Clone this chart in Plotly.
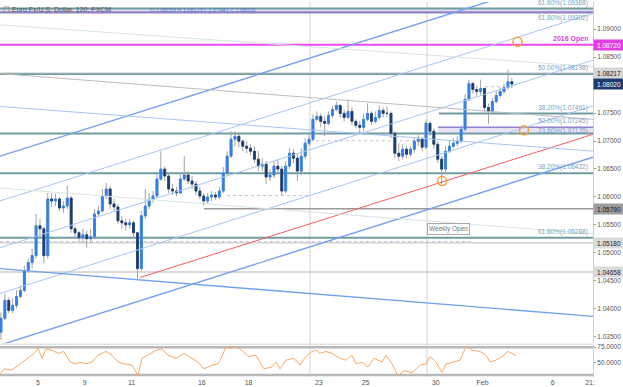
import plotly.graph_objects as go

# ---------------- data ----------------
# x axis: trading days counted from 2017-01-03 00:00 (weekends removed)
tick_days = [2, 4, 6, 9, 11, 14, 16, 19, 21, 24, 25.59]
tick_text = ["5", "9", "11", "16", "18", "23", "25", "30", "Feb", "6", "21:"]

first_bar = 2          # index of first visible 4-hour bar
bar_hours = 4

opens = [
    1.03580, 1.03829, 1.04149, 1.03971, 1.04060, 1.04220, 1.04327, 1.04683, 1.04825, 1.04950,
    1.05483, 1.05430, 1.04950, 1.05963, 1.05927, 1.05963, 1.05802, 1.05838, 1.05980, 1.05430,
    1.05359, 1.05270, 1.05323, 1.05252, 1.05288, 1.05695, 1.05749, 1.06016, 1.06141, 1.05874,
    1.05820, 1.05572, 1.05536, 1.05501, 1.05536, 1.05359, 1.04718, 1.05661, 1.05838, 1.05963,
    1.06016, 1.06319, 1.06497, 1.06373, 1.06141, 1.06105, 1.06070, 1.06319, 1.06391, 1.06284,
    1.06230, 1.06105, 1.06016, 1.05927, 1.05998, 1.06034, 1.05998, 1.06105, 1.06426, 1.06729,
    1.07031, 1.07084, 1.06995, 1.06906, 1.06871, 1.06817, 1.06675, 1.06551, 1.06586, 1.06355,
    1.06391, 1.06551, 1.06497, 1.06105, 1.06551, 1.06782, 1.06693, 1.06462, 1.06729, 1.06960,
    1.07031, 1.07387, 1.07440, 1.07351, 1.07316, 1.07458, 1.07565, 1.07636, 1.07494, 1.07422,
    1.07529, 1.07351, 1.07280, 1.07245, 1.07387, 1.07494, 1.07351, 1.07422, 1.07547, 1.07494,
    1.07494, 1.07138, 1.06782, 1.06729, 1.06853, 1.06764, 1.06853, 1.06995, 1.07031, 1.06889,
    1.07316, 1.07173, 1.06942, 1.06675, 1.06497, 1.06817, 1.06906, 1.06960, 1.06995, 1.07209,
    1.07743, 1.08027, 1.07920, 1.07885, 1.07938, 1.07600, 1.07529, 1.07707, 1.07814, 1.07885,
    1.07956, 1.08059,
]
highs = [
    1.03936, 1.04273, 1.04202, 1.04185, 1.04327, 1.04416, 1.04772, 1.04896, 1.05074, 1.05695,
    1.05608, 1.05465, 1.06070, 1.06070, 1.06052, 1.05998, 1.05927, 1.06195, 1.06016, 1.05483,
    1.05394, 1.05430, 1.05394, 1.05430, 1.05784, 1.05838, 1.06141, 1.06248, 1.06195, 1.05963,
    1.05874, 1.05661, 1.05608, 1.05608, 1.05572, 1.05359, 1.05749, 1.06141, 1.06070, 1.06105,
    1.06426, 1.06817, 1.06551, 1.06408, 1.06230, 1.06177, 1.06426, 1.06729, 1.06462, 1.06373,
    1.06284, 1.06177, 1.06070, 1.06070, 1.06105, 1.06088, 1.06177, 1.06533, 1.06817, 1.07173,
    1.07173, 1.07120, 1.07031, 1.06995, 1.06942, 1.06906, 1.06817, 1.06693, 1.06640, 1.06497,
    1.06640, 1.06675, 1.06551, 1.06640, 1.06871, 1.06853, 1.06764, 1.06871, 1.07049, 1.07120,
    1.07476, 1.07529, 1.07494, 1.07440, 1.07529, 1.07636, 1.07707, 1.07654, 1.07565, 1.07743,
    1.07600, 1.07387, 1.07351, 1.07494, 1.07672, 1.07529, 1.07529, 1.07636, 1.07600, 1.07618,
    1.07529, 1.07173, 1.06960, 1.06942, 1.06906, 1.06906, 1.07067, 1.07102, 1.07067, 1.07387,
    1.07351, 1.07227, 1.06995, 1.06729, 1.06906, 1.07013, 1.07049, 1.07084, 1.07280, 1.07831,
    1.08098, 1.08063, 1.07992, 1.08098, 1.07956, 1.07672, 1.07778, 1.07885, 1.07956, 1.08027,
    1.08276, 1.08123,
]
lows = [
    1.03437, 1.03793, 1.03918, 1.03918, 1.04007, 1.04185, 1.04291, 1.04647, 1.04718, 1.04896,
    1.05252, 1.04807, 1.04896, 1.05820, 1.05838, 1.05749, 1.05713, 1.05784, 1.05359, 1.05252,
    1.05216, 1.05181, 1.05092, 1.05181, 1.05252, 1.05643, 1.05713, 1.05963, 1.05784, 1.05749,
    1.05518, 1.05430, 1.05394, 1.05430, 1.05288, 1.04540, 1.04683, 1.05608, 1.05784, 1.05892,
    1.05998, 1.06284, 1.06284, 1.06070, 1.06034, 1.06016, 1.06052, 1.06284, 1.06230, 1.06141,
    1.06034, 1.05963, 1.05838, 1.05874, 1.05927, 1.05945, 1.05963, 1.06070, 1.06391, 1.06693,
    1.06906, 1.06889, 1.06817, 1.06782, 1.06746, 1.06604, 1.06462, 1.06462, 1.06230, 1.06284,
    1.06337, 1.06426, 1.06016, 1.06070, 1.06497, 1.06604, 1.06284, 1.06391, 1.06675, 1.06906,
    1.06995, 1.07351, 1.07245, 1.07084, 1.07280, 1.07405, 1.07529, 1.07422, 1.07351, 1.07387,
    1.07280, 1.07227, 1.07138, 1.07173, 1.07351, 1.07280, 1.07316, 1.07387, 1.07422, 1.07422,
    1.07049, 1.06693, 1.06640, 1.06675, 1.06693, 1.06729, 1.06782, 1.06906, 1.06817, 1.06853,
    1.07084, 1.06853, 1.06604, 1.06230, 1.06426, 1.06782, 1.06871, 1.06906, 1.06960, 1.07173,
    1.07707, 1.07849, 1.07796, 1.07814, 1.07529, 1.07298, 1.07494, 1.07672, 1.07778, 1.07849,
    1.07920, 1.07943,
]
closes = [
    1.03829, 1.04149, 1.03971, 1.04060, 1.04220, 1.04327, 1.04683, 1.04825, 1.04950, 1.05483,
    1.05430, 1.04950, 1.05963, 1.05927, 1.05963, 1.05802, 1.05838, 1.05980, 1.05430, 1.05359,
    1.05270, 1.05323, 1.05252, 1.05288, 1.05695, 1.05749, 1.06016, 1.06141, 1.05874, 1.05820,
    1.05572, 1.05536, 1.05501, 1.05536, 1.05359, 1.04718, 1.05661, 1.05838, 1.05963, 1.06016,
    1.06319, 1.06497, 1.06373, 1.06141, 1.06105, 1.06070, 1.06319, 1.06391, 1.06284, 1.06230,
    1.06105, 1.06016, 1.05927, 1.05998, 1.06034, 1.05998, 1.06105, 1.06426, 1.06729, 1.07031,
    1.07084, 1.06995, 1.06906, 1.06871, 1.06817, 1.06675, 1.06551, 1.06586, 1.06355, 1.06391,
    1.06551, 1.06497, 1.06105, 1.06551, 1.06782, 1.06693, 1.06462, 1.06729, 1.06960, 1.07031,
    1.07387, 1.07440, 1.07351, 1.07316, 1.07458, 1.07565, 1.07636, 1.07494, 1.07422, 1.07529,
    1.07351, 1.07280, 1.07245, 1.07387, 1.07494, 1.07351, 1.07422, 1.07547, 1.07494, 1.07494,
    1.07138, 1.06782, 1.06729, 1.06853, 1.06764, 1.06853, 1.06995, 1.07031, 1.06889, 1.07316,
    1.07173, 1.06942, 1.06675, 1.06497, 1.06817, 1.06906, 1.06960, 1.06995, 1.07209, 1.07743,
    1.08027, 1.07920, 1.07885, 1.07938, 1.07600, 1.07529, 1.07707, 1.07814, 1.07885, 1.07956,
    1.08059, 1.08020,
]

rsi_days = [
    0.376, 0.547, 0.889, 1.231, 1.573, 1.829, 2.0, 2.171, 2.342, 2.598, 2.855, 3.111, 3.368,
    3.624, 3.795, 4.05, 4.308, 4.564, 4.906, 5.162, 5.419, 5.675, 6.017, 6.274, 6.444, 6.701,
    7.043, 7.3, 7.556, 7.897, 8.239, 8.581, 8.838, 9.094, 9.436, 9.692, 9.863, 10.034, 10.205,
    10.462, 10.718, 10.974, 11.316, 11.658, 12.0, 12.171, 12.342, 12.598, 12.94, 13.197, 13.453,
    13.709, 13.88, 14.051, 14.308, 14.564, 14.906, 15.162, 15.419, 15.59, 15.846, 16.103, 16.359,
    16.701, 16.872, 17.128, 17.385, 17.641, 17.983, 18.325, 18.581, 18.752, 19.009, 19.265,
    19.436, 19.778, 20.034, 20.291, 20.547, 20.889, 21.145, 21.316, 21.573, 21.829, 22.085,
    22.256, 22.427,
]
rsi_vals = [
    31.7, 40, 38, 48, 57, 65, 73, 57, 72, 70, 65, 68, 51,
    48, 51, 48, 51, 62, 68, 62, 51, 48, 46, 29, 57, 62,
    70, 72, 62, 57, 65, 57, 51, 40, 46, 48, 60, 76, 73,
    76, 70, 60, 62, 40, 43, 51, 40, 54, 57, 46, 60,
    68, 70, 65, 68, 65, 57, 54, 62, 48, 51, 43, 57,
    51, 62, 48, 29, 37, 34, 46, 48, 60, 51, 34,
    48, 51, 54, 76, 70, 68, 62, 51, 54, 60, 68,
    65, 61,
]

price_ticks = [1.035, 1.040, 1.045, 1.050, 1.055, 1.060, 1.065, 1.070, 1.075, 1.080, 1.085, 1.090]

# Fibonacci levels: (price, label, label placement, start day)
fib_levels = [
    (1.09368, "61.80%(1.09368)", "above", None),
    (1.09302, "61.80%(1.09302)", "below", None),
    (1.08198, "50.00%(1.08198)", "above", None),
    (1.07491, "38.20%(1.07491)", "above", 19.137),
    (1.07245, "50.00%(1.07245)", "above", 19.094),
    (1.07135, "23.60%(1.07135)", "inside", None),
    (1.06422, "38.20%(1.06422)", "above", None),
    (1.05268, "61.80%(1.05268)", "above", None),
]
# right-axis price flags: (price, background, text colour)
price_flags = [
    (1.08720, "#e23fe2", "#ffffff"),
    (1.08217, "#d6d6d6", "#222222"),
    (1.08020, "#1d3b6d", "#ffffff"),
    (1.05790, "#9c9c9c", "#111111"),
    (1.05180, "#dadada", "#222222"),
    (1.04658, "#dadada", "#222222"),
]
open_2016 = 1.08720
weekly_open = 1.05180
support_1 = 1.05790
low_level = 1.04658
high_level = 1.08217

# trend/channel lines: ((day0, price0), (day1, price1), colour, width)
trend_lines = [
    ((0.376, 1.06729), (25.718, 1.10084), "#74a2ee", 1.4),
    ((0.376, 1.05928), (25.718, 1.09283), "#a8c5f2", 1.0),
    ((0.376, 1.05092), (25.718, 1.08447), "#a8c5f2", 1.0),
    ((0.376, 1.04273), (25.718, 1.07629), "#a8c5f2", 1.0),
    ((0.376, 1.03349), (25.718, 1.06711), "#74a2ee", 1.4),
    ((6.359, 1.04558), (25.718, 1.07120), "#f26060", 1.0),
    ((0.376, 1.04718), (25.718, 1.03864), "#74a2ee", 1.4),
    ((0.376, 1.07618), (25.718, 1.06818), "#a8c5f2", 1.0),
    ((0.376, 1.08205), (25.718, 1.07387), "#bdbdbd", 1.0),
    ((0.376, 1.09077), (25.718, 1.08330), "#d6e4e4", 1.0),
    ((0.376, 1.06159), (25.718, 1.05341), "#d6e4e4", 1.0),
]
# weekly-open dotted segments: (day0, day1, price)
dotted_segments = [
    (0.376, 20.5, 1.05200),
    (10.077, 13.624, 1.06025),
    (13.624, 18.624, 1.07005),
    (21.10, 21.96, 1.07970),
]
week_lines = [13.624, 18.624]
circles_x = [22.49, 22.77, 19.27]
circles_y = [1.08774, 1.07191, 1.06284]

# ---------------- figure ----------------
X0, X1 = 0.376, 25.718
Y0, Y1 = 1.03384, 1.09486
FONT = "Liberation Sans"

bar_x = [(bar_hours * (first_bar + i) + bar_hours / 2) / 24 for i in range(len(closes))]
body_hi = [max(o, c) for o, c in zip(opens, closes)]
body_lo = [min(o, c) for o, c in zip(opens, closes)]

fig = go.Figure()

for (a, b, col, w) in trend_lines:
    fig.add_trace(go.Scatter(x=[a[0], b[0]], y=[a[1], b[1]], mode="lines",
                             line=dict(color=col, width=w), hoverinfo="skip"))

gray = "#a3a3a3"
fig.add_trace(go.Candlestick(
    x=bar_x, open=opens, high=highs, low=lows, close=closes, whiskerwidth=0,
    increasing=dict(line=dict(color=gray, width=1), fillcolor=gray),
    decreasing=dict(line=dict(color=gray, width=1), fillcolor=gray),
    hoverinfo="skip"))
fig.add_trace(go.Candlestick(
    x=bar_x, open=opens, high=body_hi, low=body_lo, close=closes, whiskerwidth=0,
    increasing=dict(line=dict(color="#2f80ee", width=0.8), fillcolor="#2f80ee"),
    decreasing=dict(line=dict(color="#1b3c72", width=0.8), fillcolor="#1b3c72"),
    hoverinfo="skip"))

fig.add_trace(go.Scatter(x=circles_x, y=circles_y, mode="markers",
                         marker=dict(symbol="circle-open", size=9, color="#f2a23c",
                                     line=dict(width=1.5, color="#f2a23c")),
                         hoverinfo="skip"))

fig.add_trace(go.Scatter(x=rsi_days, y=rsi_vals, mode="lines", yaxis="y2",
                         line=dict(color="#f6aa63", width=1), hoverinfo="skip"))

shapes = []
fib_col = "#6f9ba1"
shapes.append(dict(type="rect", xref="x", yref="y", x0=X0, x1=X1, y0=1.09302, y1=1.09368,
                   fillcolor="#e6e0f3", line=dict(width=0), layer="below"))
shapes.append(dict(type="rect", xref="x", yref="y", x0=19.094, x1=X1, y0=1.07135, y1=1.07245,
                   fillcolor="#e9e4f5", line=dict(width=0), layer="below"))
for price, label, pos, start in fib_levels:
    col = fib_col
    width = 2
    if price in (1.09302, 1.07245):
        col = "#8f82cc"
        width = 2.2 if price == 1.09302 else 1.5
    shapes.append(dict(type="line", xref="x", yref="y", x0=start if start else X0, x1=X1,
                       y0=price, y1=price, line=dict(color=col, width=width), layer="below"))
shapes.append(dict(type="line", xref="x", yref="y", x0=X0, x1=X1, y0=high_level, y1=high_level,
                   line=dict(color="#c9c9c9", width=1), layer="below"))
shapes.append(dict(type="line", xref="x", yref="y", x0=9.094, x1=X1, y0=support_1, y1=support_1,
                   line=dict(color="#9a9a9a", width=1.5), layer="below"))
shapes.append(dict(type="line", xref="x", yref="y", x0=X0, x1=X1, y0=weekly_open, y1=weekly_open,
                   line=dict(color="#d2d2d2", width=1.5), layer="below"))
shapes.append(dict(type="line", xref="x", yref="y", x0=X0, x1=X1, y0=low_level, y1=low_level,
                   line=dict(color="#cdcdcd", width=1.5), layer="below"))
shapes.append(dict(type="line", xref="x", yref="y", x0=X0, x1=X1, y0=open_2016, y1=open_2016,
                   line=dict(color="#ee48ee", width=2), layer="below"))
for d0, d1, p in dotted_segments:
    shapes.append(dict(type="line", xref="x", yref="y", x0=d0, x1=d1, y0=p, y1=p,
                       line=dict(color="#c9c3dc", width=1, dash="dot"), layer="below"))
for d in week_lines:
    shapes.append(dict(type="line", xref="x", yref="paper", x0=d, x1=d, y0=0, y1=1,
                       line=dict(color="#d4d4d4", width=1), layer="below"))
for lv in (75, 30):
    shapes.append(dict(type="line", xref="paper", yref="y2", x0=0, x1=1, y0=lv, y1=lv,
                       line=dict(color="#b8b8b8", width=2.5), layer="below"))
shapes.append(dict(type="line", xref="paper", yref="paper", x0=0, x1=1, y0=0.0875, y1=0.0875,
                   line=dict(color="#d6d6d6", width=1)))

ann = []
for price, label, pos, start in fib_levels:
    if pos == "above":
        ya, yv = "bottom", price
    elif pos == "below":
        ya, yv = "top", price
    else:
        ya, yv = "middle", (1.07135 + 1.07245) / 2 - 0.00003
    ann.append(dict(xref="paper", yref="y", x=1, y=yv, xanchor="right", yanchor=ya,
                    xshift=-3, text=label, showarrow=False,
                    font=dict(family=FONT, size=6.5, color="#78a3c6")))
ann.append(dict(xref="paper", yref="y", x=1, y=open_2016, xanchor="right", yanchor="bottom",
                xshift=-3, text="<b>2016 Open</b>", showarrow=False,
                font=dict(family=FONT, size=7, color="#e23fe2")))
for price, bg, fg in price_flags:
    ann.append(dict(xref="paper", yref="y", x=1, y=price, xanchor="left", yanchor="middle",
                    text=f"{price:.5f}", showarrow=False, bgcolor=bg, width=29, height=9,
                    borderpad=0.5, font=dict(family=FONT, size=6.5, color=fg)))
ann.append(dict(xref="x", yref="y", x=19.56, y=1.05430, text="Weekly Open", showarrow=False,
                bgcolor="#ffffff", bordercolor="#aaaaaa", borderwidth=1, borderpad=1,
                font=dict(family=FONT, size=6.5, color="#777777")))
ann.append(dict(xref="paper", yref="paper", x=0, y=1, xanchor="left", yanchor="top",
                xshift=10, yshift=-2, text="Euro Fx/U.S. Dollar, 120, FXCM", showarrow=False,
                font=dict(family=FONT, size=7, color="#555555")))
ann.append(dict(xref="paper", yref="paper", x=0, y=1, xanchor="left", yanchor="top",
                xshift=148, yshift=-3,
                text="O 1.08059 H 1.08123 L 1.07943 C 1.08020", showarrow=False,
                font=dict(family=FONT, size=5.5, color="#4a78c8")))
shapes.append(dict(type="rect", xref="paper", yref="paper", x0=4 / 593, x1=9 / 593,
                   y0=1 - 10 / 377, y1=1 - 5 / 377, line=dict(color="#999999", width=1)))

fig.update_layout(
    width=623, height=387,
    margin=dict(l=0, r=30, t=0, b=10),
    paper_bgcolor="#ffffff", plot_bgcolor="#ffffff",
    showlegend=False, hovermode=False,
    shapes=shapes, annotations=ann,
    xaxis=dict(range=[X0, X1], anchor="y2", tickvals=tick_days, ticktext=tick_text,
               showgrid=False, zeroline=False, showline=False, ticks="",
               tickfont=dict(family=FONT, size=7, color="#555555"),
               rangeslider=dict(visible=False)),
    yaxis=dict(domain=[0.0902, 1], range=[Y0, Y1], side="right", anchor="x",
               tickvals=price_ticks, ticktext=[f"{t:.5f}" for t in price_ticks],
               showgrid=False, zeroline=False, showline=True, linecolor="#cfcfcf",
               ticks="outside", ticklen=2, tickcolor="#999999",
               tickfont=dict(family=FONT, size=6.5, color="#555555")),
    yaxis2=dict(domain=[0, 0.0849], range=[26.8, 78.2], side="right", anchor="x",
                tickvals=[50, 75], ticktext=["50.0000", "75.0000"],
                showgrid=False, zeroline=False, showline=True, linecolor="#cfcfcf",
                ticks="outside", ticklen=2, tickcolor="#999999",
                tickfont=dict(family=FONT, size=6.5, color="#555555")),
)

fig.write_html("out.html", config={"displayModeBar": False},
               post_script="document.body.style.margin='0';document.body.style.padding='0';")
